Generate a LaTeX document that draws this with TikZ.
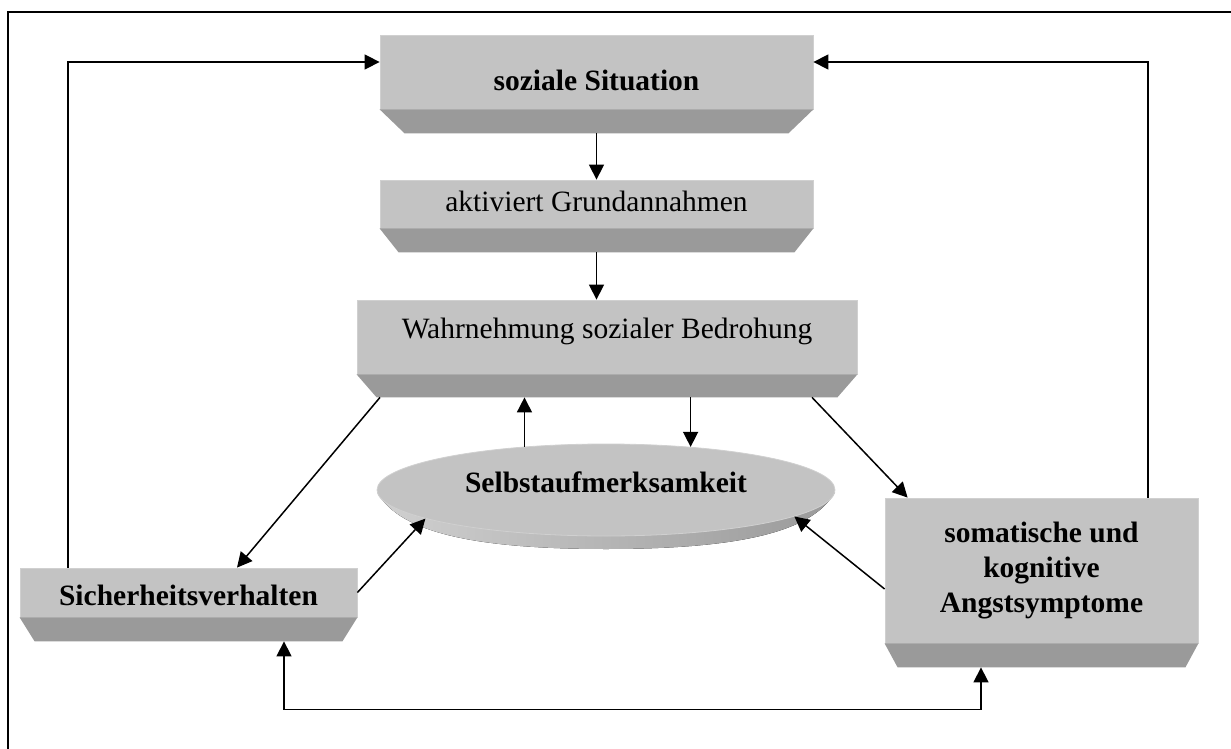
\documentclass[tikz,border=0pt]{standalone}
\usepackage{fontspec}
\setmainfont{Liberation Serif}
\usetikzlibrary{arrows.meta,shapes.geometric}
\definecolor{slabface}{HTML}{C3C3C3}
\definecolor{slabedge}{HTML}{D0D0D0}
\definecolor{slabside}{HTML}{9A9A9A}
\newcommand{\slabbevel}[3]{% name, inset, depth
  \fill[slabside] (#1.south west) -- (#1.south east) -- ([xshift=-#2pt,yshift=-#3pt]#1.south east) -- ([xshift=#2pt,yshift=-#3pt]#1.south west) -- cycle;
  \coordinate (#1-b) at ([yshift=-#3pt]#1.south);}
\begin{document}
\begin{tikzpicture}[x=1pt,y=-1pt,
  slab/.style={fill=slabface,draw=slabedge,line width=0.8pt,inner sep=0pt,font=\fontsize{29.5}{35}\selectfont},
  bold/.style={font=\fontsize{29.5}{35}\selectfont\bfseries},
  >={Triangle[length=15pt,width=15pt]},
  arr/.style={->,line width=1.5pt}]
  \useasboundingbox (0,0) rectangle (1231,749);
  \draw[line width=2pt] (8,12) rectangle (1260,780);
  % boxes
  \node[slab,bold,minimum width=433pt,text height=56pt,text depth=18pt] (sit) at (596.5,72) {soziale Situation};
  \node[slab,minimum width=433pt,text height=31pt,text depth=17pt] (grund) at (596.5,204) {aktiviert Grundannahmen};
  \node[slab,minimum width=500pt,text height=38pt,text depth=36pt] (wahr) at (607,337) {Wahrnehmung sozialer Bedrohung};
  \node[slab,bold,minimum width=337pt,text height=37pt,text depth=12pt] (sich) at (188.5,592.5) {Sicherheitsverhalten};
  \node[slab,bold,minimum width=313pt,minimum height=145pt,align=center] (angst) at (1041.5,570.5) {somatische und\\kognitive\\Angstsymptome};
  \slabbevel{sit}{25}{24}
  \slabbevel{grund}{19}{24}
  \slabbevel{wahr}{20}{23}
  \slabbevel{sich}{15}{24}
  \slabbevel{angst}{13}{24}
  % ellipse
  \fill[left color=slabedge,right color=slabside] (377,492) .. controls (400,534) and (480,549) .. (606,549) .. controls (732,549) and (812,534) .. (835,492) -- cycle;
  \node[ellipse,fill=slabface,draw=slabedge,line width=0.8pt,inner sep=0pt,bold,minimum width=458pt,minimum height=92pt,text height=24pt,text depth=20pt] (selbst) at (606,490) {Selbstaufmerksamkeit};
  % arrows
  \draw[arr] (sit-b) -- (grund.north);
  \draw[arr] (grund-b) -- (grund-b |- wahr.north);
  \draw[arr] (selbst.27 |- wahr-b) -- (selbst.27);
  \draw[arr] (selbst.152) -- (selbst.152 |- wahr-b);
  \draw[arr] ([xshift=-227pt]wahr-b) -- ([xshift=48.5pt]sich.north);
  \draw[arr] ([xshift=205pt]wahr-b) -- ([xshift=23pt]angst.north west);
  \draw[arr] (sich.east) -- (selbst.189);
  \draw[arr] ([yshift=-18.5pt]angst.west) -- (selbst.352);
  \draw[arr] ([xshift=-120.5pt]sich.north) |- ([yshift=10pt]sit.west);
  \draw[arr] ([xshift=106.5pt]angst.north) |- ([yshift=10pt]sit.east);
  \draw[arr,<->] ([xshift=95.5pt]sich-b) -- ++(0,68) -| ([xshift=-60.5pt]angst-b);
\end{tikzpicture}
\end{document}
